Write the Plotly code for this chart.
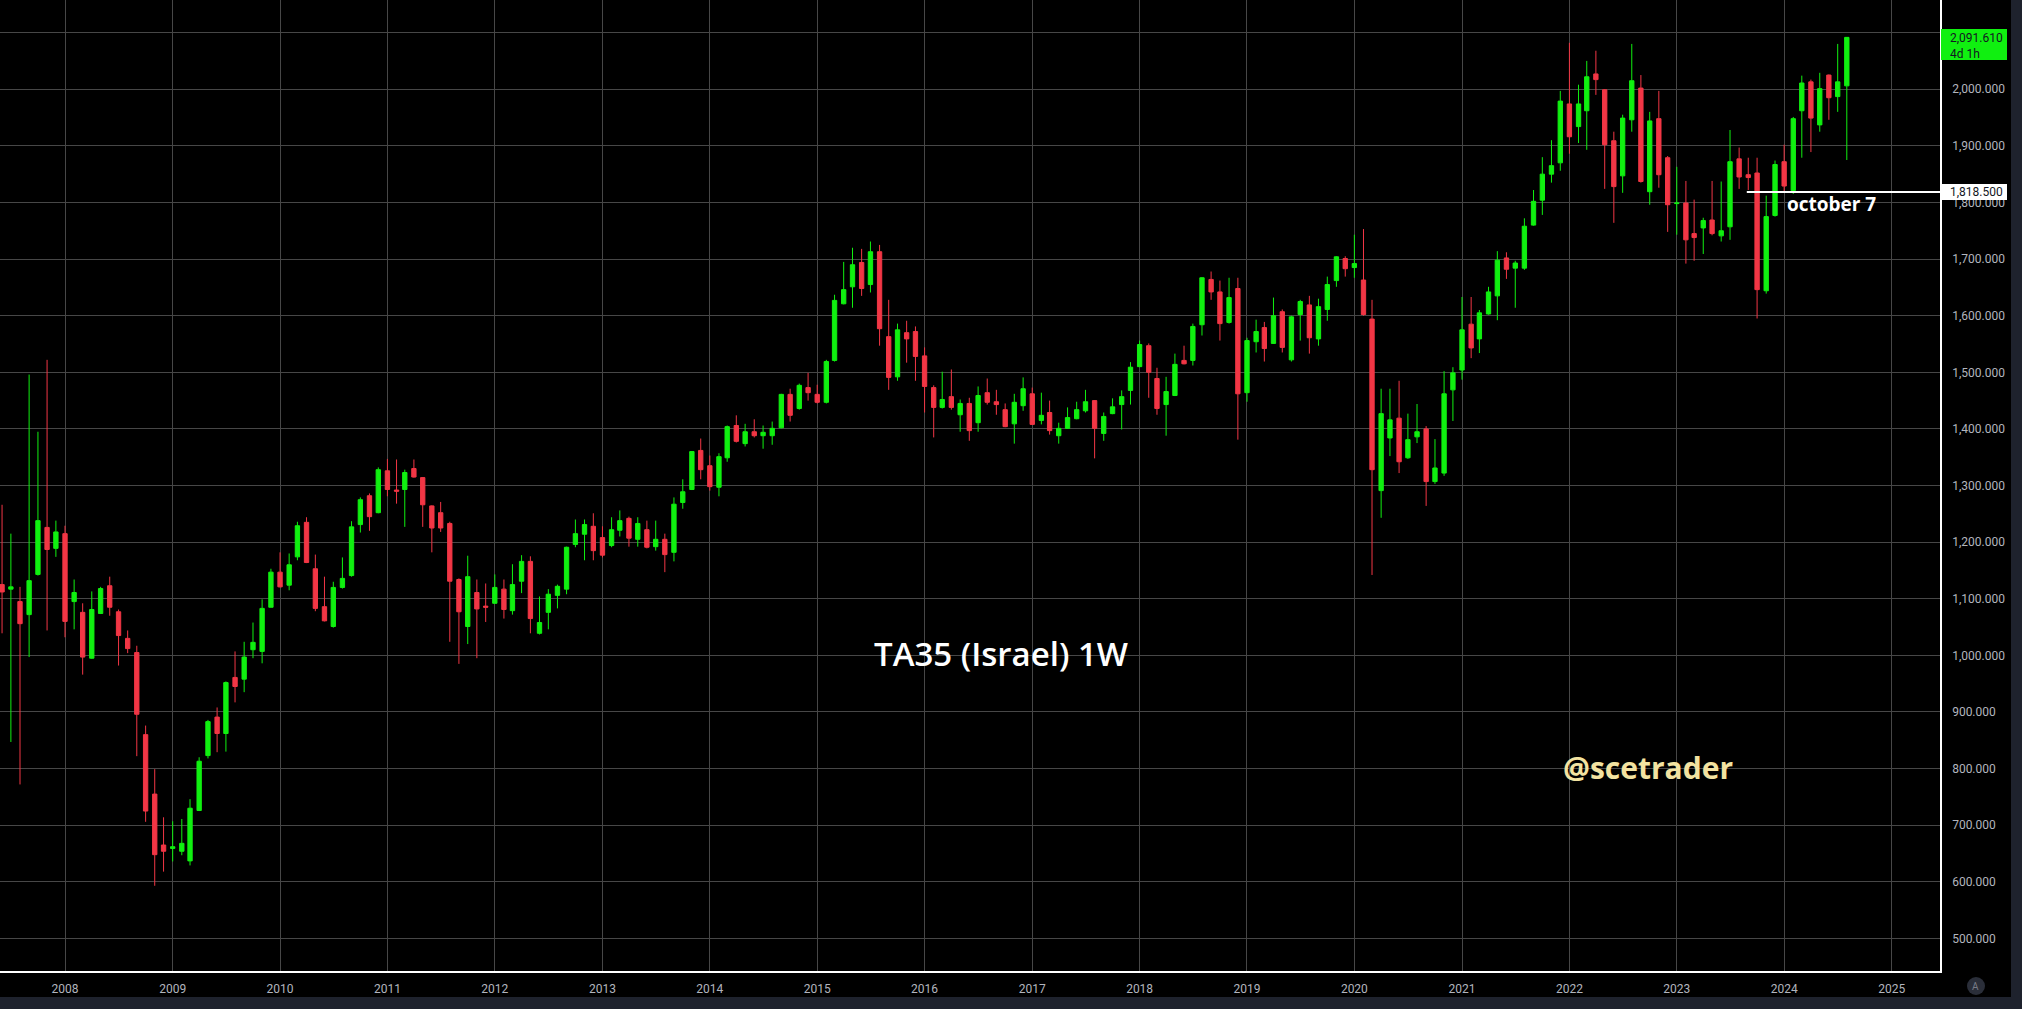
import pandas as pd
import plotly.graph_objects as go

# ---------------- data (monthly candles, Jun 2007 .. Aug 2024) ----------------
months = pd.date_range("2007-06-01", periods=207, freq="MS").strftime("%Y-%m-%d").tolist()

open_ = [
    1125, 1117, 1095, 1072, 1143, 1226, 1189, 1215, 1095, 1076,
    995, 1074, 1123, 1077, 1030, 1005, 860, 755, 665, 659,
    654, 637, 726, 823, 891, 862, 961, 958, 1010, 1007,
    1085, 1147, 1124, 1174, 1235, 1153, 1086, 1051, 1120, 1141,
    1231, 1282, 1252, 1326, 1292, 1293, 1330, 1314, 1264, 1252,
    1233, 1134, 1051, 1111, 1087, 1092, 1117, 1079, 1131, 1166,
    1039, 1076, 1106, 1117, 1196, 1214, 1228, 1208, 1194, 1221,
    1242, 1205, 1222, 1192, 1205, 1182, 1270, 1293, 1362, 1335,
    1297, 1349, 1406, 1374, 1395, 1388, 1388, 1402, 1461, 1436,
    1473, 1461, 1447, 1521, 1621, 1651, 1694, 1655, 1713, 1563,
    1492, 1570, 1572, 1529, 1473, 1438, 1457, 1425, 1445, 1411,
    1464, 1448, 1434, 1409, 1441, 1462, 1415, 1429, 1388, 1401,
    1418, 1432, 1450, 1392, 1427, 1443, 1468, 1510, 1547, 1489,
    1443, 1459, 1521, 1521, 1584, 1664, 1642, 1588, 1648, 1464,
    1554, 1579, 1551, 1607, 1522, 1602, 1619, 1559, 1611, 1662,
    1701, 1685, 1663, 1594, 1291, 1384, 1419, 1349, 1386, 1400,
    1307, 1322, 1469, 1504, 1585, 1559, 1603, 1635, 1702, 1684,
    1684, 1760, 1804, 1850, 1870, 1974, 1934, 1962, 2027, 1999,
    1909, 1847, 1946, 2002, 1819, 1948, 1879, 1798, 1799, 1745,
    1755, 1769, 1741, 1757, 1877, 1849, 1852, 1644, 1777, 1872,
    1821, 1962, 2013, 1937, 2025, 1987, 2006,
]
high = [
    1266, 1215, 1121, 1496, 1395, 1522, 1238, 1229, 1134, 1092,
    1113, 1121, 1139, 1081, 1044, 1017, 876, 799, 714, 707,
    711, 746, 820, 886, 908, 954, 1007, 1024, 1058, 1099,
    1153, 1182, 1180, 1236, 1244, 1178, 1139, 1130, 1173, 1237,
    1279, 1286, 1332, 1347, 1346, 1328, 1346, 1315, 1265, 1271,
    1236, 1136, 1176, 1134, 1127, 1143, 1134, 1161, 1177, 1175,
    1104, 1117, 1125, 1192, 1240, 1240, 1251, 1228, 1244, 1256,
    1245, 1244, 1238, 1238, 1215, 1279, 1311, 1361, 1383, 1353,
    1357, 1406, 1424, 1409, 1417, 1406, 1413, 1462, 1471, 1480,
    1499, 1478, 1522, 1637, 1695, 1720, 1718, 1731, 1725, 1628,
    1586, 1591, 1581, 1544, 1477, 1501, 1505, 1452, 1455, 1475,
    1489, 1469, 1445, 1462, 1491, 1473, 1464, 1450, 1411, 1438,
    1448, 1469, 1451, 1429, 1454, 1468, 1518, 1556, 1551, 1508,
    1492, 1533, 1547, 1586, 1668, 1678, 1662, 1667, 1667, 1561,
    1593, 1589, 1632, 1611, 1600, 1628, 1635, 1630, 1669, 1705,
    1705, 1743, 1753, 1628, 1471, 1471, 1485, 1427, 1444, 1405,
    1382, 1502, 1509, 1633, 1633, 1610, 1651, 1714, 1712, 1697,
    1772, 1822, 1880, 1910, 1997, 2082, 2008, 2050, 2068, 2000,
    1925, 1955, 2080, 2025, 1960, 1997, 1882, 1863, 1838, 1805,
    1773, 1838, 1837, 1928, 1897, 1879, 1879, 1812, 1874, 1902,
    1951, 2024, 2017, 2029, 2026, 2080, 2092,
]
low = [
    1039, 847, 772, 997, 1141, 1044, 1174, 1032, 1046, 966,
    994, 1073, 1070, 982, 1004, 822, 706, 593, 618, 636,
    647, 629, 725, 818, 829, 830, 917, 935, 995, 986,
    1085, 1120, 1115, 1168, 1163, 1078, 1060, 1049, 1118, 1139,
    1217, 1220, 1251, 1281, 1268, 1227, 1314, 1227, 1182, 1218,
    1024, 985, 1020, 995, 1059, 1091, 1065, 1072, 1110, 1039,
    1037, 1046, 1083, 1108, 1191, 1168, 1168, 1173, 1191, 1210,
    1192, 1192, 1189, 1185, 1147, 1166, 1259, 1292, 1311, 1291,
    1281, 1342, 1376, 1369, 1385, 1365, 1372, 1401, 1413, 1434,
    1450, 1445, 1445, 1519, 1620, 1614, 1635, 1641, 1547, 1469,
    1485, 1517, 1485, 1429, 1385, 1436, 1434, 1395, 1379, 1395,
    1443, 1425, 1403, 1374, 1432, 1407, 1408, 1390, 1374, 1400,
    1417, 1429, 1348, 1379, 1426, 1399, 1443, 1509, 1455, 1425,
    1388, 1458, 1514, 1512, 1565, 1628, 1556, 1586, 1381, 1448,
    1535, 1519, 1550, 1535, 1519, 1556, 1533, 1547, 1591, 1651,
    1669, 1667, 1600, 1142, 1243, 1352, 1322, 1347, 1375, 1264,
    1303, 1317, 1414, 1487, 1525, 1534, 1602, 1592, 1665, 1614,
    1681, 1759, 1778, 1835, 1856, 1886, 1905, 1893, 1990, 1824,
    1764, 1817, 1925, 1835, 1796, 1826, 1748, 1743, 1692, 1697,
    1709, 1742, 1731, 1734, 1824, 1822, 1595, 1639, 1775, 1819,
    1815, 1879, 1889, 1925, 1946, 1960, 1875,
]
close = [
    1112, 1121, 1056, 1132, 1238, 1187, 1218, 1060, 1111, 997,
    1081, 1118, 1085, 1035, 1012, 896, 725, 648, 654, 662,
    668, 730, 813, 883, 862, 952, 945, 997, 1023, 1083,
    1147, 1121, 1160, 1229, 1164, 1083, 1061, 1120, 1136, 1227,
    1275, 1245, 1328, 1293, 1290, 1323, 1315, 1266, 1225, 1225,
    1131, 1077, 1139, 1082, 1085, 1120, 1081, 1125, 1166, 1065,
    1058, 1108, 1122, 1191, 1215, 1231, 1185, 1177, 1222, 1238,
    1207, 1233, 1191, 1205, 1178, 1267, 1289, 1360, 1328, 1298,
    1351, 1404, 1378, 1395, 1388, 1394, 1401, 1461, 1424, 1477,
    1464, 1447, 1519, 1627, 1646, 1690, 1648, 1713, 1577, 1491,
    1575, 1559, 1528, 1475, 1438, 1452, 1438, 1445, 1397, 1459,
    1447, 1443, 1404, 1447, 1471, 1408, 1424, 1397, 1401, 1420,
    1434, 1448, 1401, 1422, 1439, 1457, 1509, 1549, 1500, 1436,
    1466, 1514, 1515, 1581, 1667, 1642, 1586, 1632, 1462, 1556,
    1572, 1542, 1600, 1544, 1598, 1625, 1561, 1616, 1655, 1704,
    1683, 1692, 1602, 1328, 1427, 1416, 1342, 1381, 1395, 1307,
    1331, 1462, 1499, 1575, 1543, 1605, 1642, 1698, 1682, 1693,
    1758, 1802, 1850, 1865, 1979, 1916, 1974, 2022, 2017, 1902,
    1828, 1949, 2015, 1837, 1944, 1849, 1796, 1799, 1734, 1738,
    1768, 1745, 1750, 1872, 1845, 1844, 1646, 1775, 1867, 1829,
    1948, 2011, 1949, 2001, 1985, 2013, 2091.61,
]

# price-axis ticks (the 2,100 label sits under the live-price tag)
price_ticks = [500, 600, 700, 800, 900, 1000, 1100, 1200, 1300, 1400,
               1500, 1600, 1700, 1800, 1900, 2000, 2100]
price_tick_labels = [f"{v:,.3f}" if v != 2100 else "" for v in price_ticks]

last_label = "2,091.610<br>4d 1h"
oct7_level = 1818.5
oct7_start = "2023-08-27"
title_text = "TA35 (Israel) 1W"
handle_text = "@scetrader"
oct7_text = "october 7"

# ---------------- styling ----------------
W, H = 2022, 1009
PLOT_R, PLOT_B = 1940, 971          # plot area right/bottom edges in px
GREEN = "#10f010"
RED = "#f23645"
GRID = "#474747"
AXIS_TXT = "#b2b5be"
BORDER = "#1e222d"
FONT = "Roboto"


def px(xp):
    return xp / PLOT_R


def py(yp):
    return 1 - yp / PLOT_B


fig = go.Figure(
    go.Candlestick(
        x=months, open=open_, high=high, low=low, close=close,
        increasing=dict(line=dict(color=GREEN, width=1), fillcolor=GREEN),
        decreasing=dict(line=dict(color=RED, width=1), fillcolor=RED),
        whiskerwidth=0, showlegend=False, hoverinfo="skip",
    )
)

shapes = [
    # right and bottom dark border strips
    dict(type="rect", xref="paper", yref="paper", x0=px(2011), x1=px(2030),
         y0=py(-10), y1=py(1020), fillcolor=BORDER, line=dict(width=0), layer="above"),
    dict(type="rect", xref="paper", yref="paper", x0=px(-10), x1=px(2030),
         y0=py(997), y1=py(1020), fillcolor=BORDER, line=dict(width=0), layer="above"),
    # "A" button
    dict(type="circle", xref="paper", yref="paper", x0=px(1967), x1=px(1985),
         y0=py(995), y1=py(977), fillcolor="#2a2e39", line=dict(width=0), layer="above"),
    # october 7 level line
    dict(type="line", xref="x", yref="y", x0=oct7_start, x1="2025-07-01",
         y0=oct7_level, y1=oct7_level, line=dict(color="white", width=2), layer="above"),
    # price labels backgrounds
    dict(type="rect", xref="paper", yref="paper", x0=px(1941), x1=px(2007),
         y0=py(60), y1=py(29), fillcolor=GREEN, line=dict(width=0), layer="above"),
    dict(type="rect", xref="paper", yref="paper", x0=px(1941), x1=px(2007),
         y0=py(200), y1=py(184), fillcolor="white", line=dict(width=0), layer="above"),
]

annotations = [
    dict(text=last_label, xref="paper", yref="paper", x=px(1948), y=py(29),
         xanchor="left", yanchor="top", showarrow=False, align="left",
         font=dict(family=FONT, size=12, color="#131722")),
    dict(text=f"{oct7_level:,.3f}", xref="paper", yref="y", x=px(1948), y=oct7_level,
         xanchor="left", yanchor="middle", showarrow=False,
         font=dict(family=FONT, size=12, color="#131722")),
    dict(text=oct7_text, xref="paper", yref="paper", x=px(1785), y=py(204),
         xanchor="left", yanchor="middle", showarrow=False,
         font=dict(family="Open Sans", size=19, color="white", weight="bold")),
    dict(text=title_text, xref="paper", yref="paper", x=px(1001), y=py(653),
         xanchor="center", yanchor="middle", showarrow=False,
         font=dict(family="Open Sans", size=33, color="white", weight=600)),
    dict(text=handle_text, xref="paper", yref="paper", x=px(1648), y=py(767),
         xanchor="center", yanchor="middle", showarrow=False,
         font=dict(family="Open Sans", size=30, color="#f3e3a1", weight="bold")),
    dict(text="A", xref="paper", yref="paper", x=px(1976), y=py(986),
         xanchor="center", yanchor="middle", showarrow=False,
         font=dict(family=FONT, size=10, color="#787b86")),
]

fig.update_layout(
    width=W, height=H,
    margin=dict(l=0, r=W - PLOT_R, t=0, b=H - PLOT_B, autoexpand=False),
    paper_bgcolor="black", plot_bgcolor="black",
    boxgap=0.25,
    shapes=shapes, annotations=annotations,
    xaxis=dict(
        type="date", range=["2007-05-25", "2025-06-13 19:00"],
        rangeslider=dict(visible=False),
        dtick="M12", tick0="2008-01-01", tickformat="%Y",
        showgrid=True, gridcolor=GRID, gridwidth=1, zeroline=False,
        showline=True, linecolor="white", linewidth=1.5,
        ticks="", ticklabelstandoff=6,
        tickfont=dict(family=FONT, size=12, color=AXIS_TXT),
        fixedrange=True,
    ),
    yaxis=dict(
        side="right", range=[442.5, 2157.6],
        tickmode="array", tickvals=price_ticks, ticktext=price_tick_labels,
        showgrid=True, gridcolor=GRID, gridwidth=1, zeroline=False,
        showline=True, linecolor="white", linewidth=1.5,
        ticks="", ticklabelstandoff=8,
        tickfont=dict(family=FONT, size=12, color=AXIS_TXT),
        fixedrange=True,
    ),
    hovermode=False,
)

fig.write_html(
    "out.html",
    config={"displayModeBar": False},
    post_script=(
        "document.documentElement.style.margin='0';"
        "document.documentElement.style.background='black';"
        "document.body.style.margin='0';"
        "document.body.style.padding='0';"
        "document.body.style.background='black';"
        "document.body.style.overflow='hidden';"
    ),
)
